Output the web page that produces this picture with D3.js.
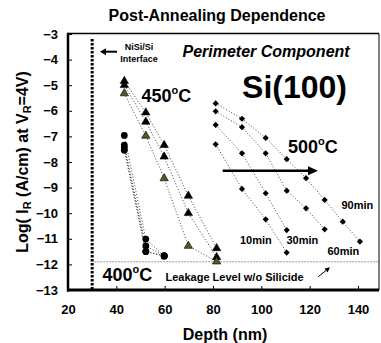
<!DOCTYPE html>
<html>
<head>
<meta charset="utf-8">
<script src="https://cdn.jsdelivr.net/npm/d3@7"></script>
<style>
  body { margin: 0; background: #fff; }
  svg { display: block; font-family: "Liberation Sans", Arial, sans-serif; font-weight: bold; }
</style>
</head>
<body>
<div id="chart"></div>
<script>
// axis ticks
const xTicks = [20, 40, 60, 80, 100, 120, 140];
const yTicks = [-3, -4, -5, -6, -7, -8, -9, -10, -11, -12, -13];

// 400C anneal (circles)
const depth400 = [43.3, 52.2, 59.8];
const log400a = [-6.96, -11.01, -11.67];
const log400b = [-7.34, -11.28, -11.67];
const log400c = [-7.44, -11.50, -11.67];
const log400d = [-7.54, -11.50, -11.67];

// 450C anneal (triangles)
const depth450 = [43.3, 52.2, 59.8, 69.8, 81.5];
const log450a = [-4.84, -6.07, -7.34, -9.32, -11.37];
const log450b = [-5.00, -6.43, -7.79, -10.00, -11.72];
const log450c = [-5.32, -6.98, -8.64, -11.28, -11.89]; // olive

// 500C anneal (diamonds), one series per anneal time
const depth500 = [81.1, 92, 101.8, 110.5, 118.5, 126.2, 133.7, 140.8];
const log500m10 = [-7.31, -9.05, -10.24, -11.54];
const log500m30 = [-6.55, -7.66, -9.22, -10.66];
const log500m60 = [-6.02, -6.64, -7.66, -9.12, -9.81, -10.63];
const log500m90 = [-5.71, -6.31, -7.06, -7.89, -8.63, -9.48, -10.33, -11.11];

const interfaceDepth = 30;
const leakageLevel = -11.9;

const width = 381, height = 343;
const plotLeft = 68, plotTop = 34, plotBottom = 290, plotRight = 379;

const svg = d3.select("#chart").append("svg").attr("width", width).attr("height", height);

const x = d3.scaleLinear().domain([20, 140]).range([plotLeft, 358]);
const y = d3.scaleLinear().domain([-13, -3]).range([plotBottom, plotTop]);

// title
svg.append("text").attr("x", 217).attr("y", 21).attr("text-anchor", "middle")
    .style("font-size", "16px").text("Post-Annealing Dependence");

// axes (inward ticks)
const xAxis = svg.append("g").attr("transform", `translate(0,${plotBottom})`)
    .call(d3.axisBottom(x).tickValues(xTicks).tickSize(-4).tickPadding(15));
const yAxis = svg.append("g").attr("transform", `translate(${plotLeft},0)`)
    .call(d3.axisLeft(y).tickValues(yTicks).tickSize(-4).tickPadding(10));
[xAxis, yAxis].forEach(a => {
    a.select(".domain").remove();
    a.selectAll(".tick line").attr("stroke", "#000").attr("stroke-width", 1);
    a.selectAll(".tick text").attr("fill", "#000")
        .style("font-size", "13px").style("font-weight", "bold")
        .style("font-family", '"Liberation Sans", Arial, sans-serif');
});

// frame
svg.append("line").attr("x1", plotLeft).attr("x2", plotRight).attr("y1", plotTop - 0.5).attr("y2", plotTop - 0.5)
    .attr("stroke", "#000").attr("stroke-width", 1.5);
svg.append("line").attr("x1", plotRight).attr("x2", plotRight).attr("y1", plotTop - 0.5).attr("y2", plotBottom)
    .attr("stroke", "#000").attr("stroke-width", 1);
svg.append("line").attr("x1", plotLeft).attr("x2", plotLeft).attr("y1", plotTop - 1.2).attr("y2", plotBottom + 1.5)
    .attr("stroke", "#000").attr("stroke-width", 2.5);
svg.append("line").attr("x1", plotLeft - 1).attr("x2", plotRight).attr("y1", plotBottom).attr("y2", plotBottom)
    .attr("stroke", "#000").attr("stroke-width", 3);

// axis titles
svg.append("text").attr("x", 225).attr("y", 340).attr("text-anchor", "middle")
    .style("font-size", "16px").text("Depth (nm)");

const yLab = svg.append("text").attr("transform", "translate(28,162) rotate(-90)")
    .attr("text-anchor", "middle").style("font-size", "16px");
yLab.append("tspan").text("Log( I");
yLab.append("tspan").attr("dy", 3).style("font-size", "11px").text("R");
yLab.append("tspan").attr("dy", -3).text(" (A/cm) at V");
yLab.append("tspan").attr("dy", 3).style("font-size", "11px").text("R");
yLab.append("tspan").attr("dy", -3).text("=4V)");

// NiSi/Si interface and leakage level
svg.append("line").attr("x1", x(interfaceDepth)).attr("x2", x(interfaceDepth))
    .attr("y1", 39).attr("y2", plotBottom)
    .attr("stroke", "#000").attr("stroke-width", 3).attr("stroke-dasharray", "2.5,1.5");
svg.append("line").attr("x1", x(interfaceDepth) + 2).attr("x2", plotRight)
    .attr("y1", y(leakageLevel)).attr("y2", y(leakageLevel))
    .attr("stroke", "#999").attr("stroke-width", 1).attr("stroke-dasharray", "2,1");

function arrow(x1, y1, x2, y2, w, headLen, headHalf) {
    const ang = Math.atan2(y2 - y1, x2 - x1);
    const bx = x2 - headLen * Math.cos(ang), by = y2 - headLen * Math.sin(ang);
    svg.append("line").attr("x1", x1).attr("y1", y1).attr("x2", bx).attr("y2", by)
        .attr("stroke", "#000").attr("stroke-width", w);
    const px = -Math.sin(ang) * headHalf, py = Math.cos(ang) * headHalf;
    svg.append("path")
        .attr("d", `M${x2},${y2}L${bx + px},${by + py}L${bx - px},${by - py}Z`)
        .attr("fill", "#000");
}

arrow(117, 51.7, 100, 51.7, 2, 6, 3.5);
svg.append("text").attr("x", 139).attr("y", 50).attr("text-anchor", "middle")
    .style("font-size", "9px").text("NiSi/Si");
svg.append("text").attr("x", 139).attr("y", 62).attr("text-anchor", "middle")
    .style("font-size", "9px").text("Interface");

// connecting dotted lines
const line = d3.line().x(d => x(d[0])).y(d => y(d[1]));
const pts = (depths, vals) => vals.map((v, i) => [depths[i], v]);

const series = [
    { pts: pts(depth400, log400a), shape: "circle" },
    { pts: pts(depth400, log400b), shape: "circle" },
    { pts: pts(depth400, log400c), shape: "circle" },
    { pts: pts(depth400, log400d), shape: "circle" },
    { pts: pts(depth450, log450a), shape: "triangle", fill: "#000" },
    { pts: pts(depth450, log450b), shape: "triangle", fill: "#000" },
    { pts: pts(depth450, log450c), shape: "triangle", fill: "#57571e" },
    { pts: pts(depth500, log500m10), shape: "diamond" },
    { pts: pts(depth500, log500m30), shape: "diamond" },
    { pts: pts(depth500, log500m60), shape: "diamond" },
    { pts: pts(depth500, log500m90), shape: "diamond" }
];

svg.append("g").selectAll("path").data(series).join("path")
    .attr("d", d => line(d.pts))
    .attr("fill", "none").attr("stroke", "#444").attr("stroke-width", 1)
    .attr("stroke-dasharray", "1,2");

const marks = svg.append("g");
series.forEach(s => {
    const g = marks.append("g");
    if (s.shape === "circle") {
        g.selectAll("circle").data(s.pts).join("circle")
            .attr("cx", d => x(d[0])).attr("cy", d => y(d[1])).attr("r", 3.4).attr("fill", "#000");
    } else if (s.shape === "triangle") {
        g.selectAll("path").data(s.pts).join("path")
            .attr("d", d3.symbol(d3.symbolTriangle, 30))
            .attr("transform", d => `translate(${x(d[0])},${y(d[1])})`)
            .attr("fill", s.fill).attr("stroke", "#000").attr("stroke-width", 0.6);
    } else {
        g.selectAll("path").data(s.pts).join("path")
            .attr("d", d3.symbol(d3.symbolSquare, 19))
            .attr("transform", d => `translate(${x(d[0])},${y(d[1])}) rotate(45)`)
            .attr("fill", "#000");
    }
});

// temperature labels
function tempLabel(px, py, num) {
    const t = svg.append("text").attr("x", px).attr("y", py).style("font-size", "18px");
    t.append("tspan").text(num);
    t.append("tspan").attr("dy", -8).style("font-size", "11px").text("o");
    t.append("tspan").attr("dy", 8).text("C");
}
tempLabel(141.5, 101.5, "450");
tempLabel(288, 153, "500");
tempLabel(102.5, 281, "400");

arrow(222.7, 170.7, 318, 170.7, 2.5, 10, 4.5);

svg.append("text").attr("x", 182.5).attr("y", 57)
    .style("font-size", "16px").style("font-style", "italic").text("Perimeter Component");
svg.append("text").attr("x", 294.5).attr("y", 98).attr("text-anchor", "middle")
    .style("font-size", "32px").text("Si(100)");

svg.append("text").attr("x", 165.5).attr("y", 280.5)
    .style("font-size", "11px").text("Leakage Level w/o Silicide");
arrow(318.3, 276.7, 330, 267.3, 1, 5, 2.5);

// anneal time labels
const timeLabels = [
    { t: "10min", px: 240, py: 244 },
    { t: "30min", px: 286.5, py: 244 },
    { t: "60min", px: 327.5, py: 254.5 },
    { t: "90min", px: 341.5, py: 209 }
];
svg.append("g").selectAll("text").data(timeLabels).join("text")
    .attr("x", d => d.px).attr("y", d => d.py).style("font-size", "11px").text(d => d.t);
</script>
</body>
</html>
